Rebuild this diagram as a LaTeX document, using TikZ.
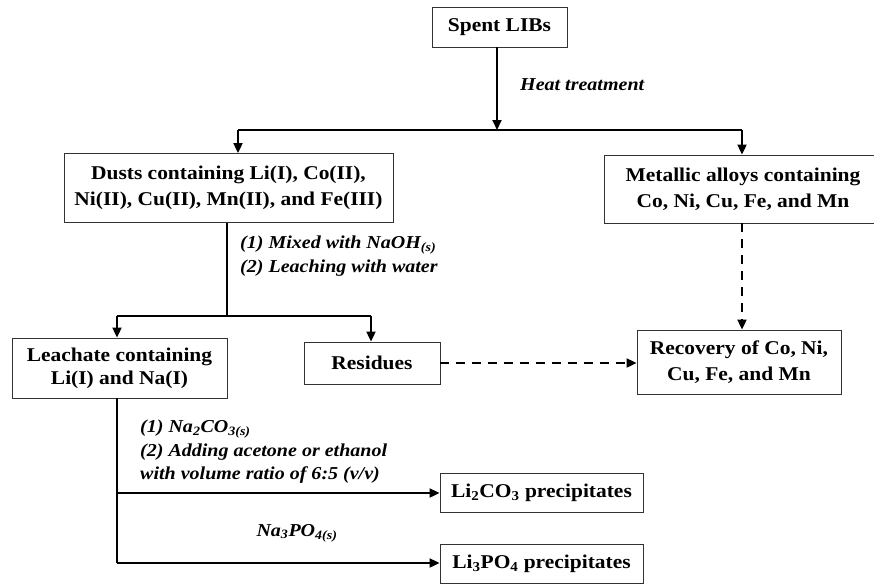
\documentclass[tikz,border=0pt]{standalone}
\usepackage{fontspec}
\setmainfont{Liberation Serif}[FakeStretch=1.1]
\usetikzlibrary{arrows.meta}
\tikzset{
  box/.style={draw=black!80, line width=0.8pt, align=center, inner sep=0pt,
    font=\bfseries\fontsize{19.5}{26}\selectfont},
  lbl/.style={align=left, anchor=west, inner sep=0pt,
    font=\bfseries\itshape\fontsize{18.2}{23.5}\selectfont},
  ln/.style={line width=1.8pt},
  arr/.style={ln, -{Triangle[length=10pt,width=9pt]}},
  darr/.style={arr, dash pattern=on 9pt off 7pt},
}
\begin{document}
\begin{tikzpicture}[x=1pt,y=-1pt]
\useasboundingbox (0,0) rectangle (874,584);
\clip (0,0) rectangle (874,584);

% boxes
\node[box, minimum width=135pt, minimum height=40pt] (spent) at (499.5,27) {Spent LIBs};
\node[box, minimum width=329pt, minimum height=69pt] (dusts) at (228.5,188) {Dusts containing Li(I), Co(II),\\Ni(II), Cu(II), Mn(II), and Fe(III)};
\node[box, minimum width=278pt, minimum height=68pt] (metal) at (743,189) {Metallic alloys containing\\Co, Ni, Cu, Fe, and Mn};
\node[box, minimum width=204pt, minimum height=64pt] (recov) at (739,362) {Recovery of Co, Ni,\\Cu, Fe, and Mn};
\node[box, minimum width=215pt, minimum height=60pt, font=\bfseries\fontsize{19.5}{23}\selectfont] (leach) at (119.5,368) {Leachate containing\\Li(I) and Na(I)};
\node[box, minimum width=136pt, minimum height=42pt] (resid) at (372,363) {Residues};
\node[box, minimum width=203pt, minimum height=39pt] (licarb) at (541.5,492.5) {Li\textsubscript{2}CO\textsubscript{3} precipitates};
\node[box, minimum width=203pt, minimum height=39pt] (liphos) at (541.5,563.5) {Li\textsubscript{3}PO\textsubscript{4} precipitates};

% branch points
\coordinate (t1) at (497,130);
\coordinate (t1l) at (238,130);
\coordinate (t1r) at (742,130);
\coordinate (t2) at (227,316);
\coordinate (t2l) at (117,316);
\coordinate (t2r) at (371,316);
\coordinate (t3) at (117,493);
\coordinate (t4) at (117,563);

% heat treatment
\draw[arr] (spent.south -| t1) -- (t1);
\draw[ln] (t1l) -- (t1r);
\draw[arr] (t1l) -- (t1l |- dusts.north);
\draw[arr] (t1r) -- (t1r |- metal.north);
\node[lbl] (heat) at (520,85) {Heat treatment};

% leaching
\draw[ln] (dusts.south -| t2) -- (t2);
\draw[ln] (t2l) -- (t2r);
\draw[arr] (t2l) -- (t2l |- leach.north);
\draw[arr] (t2r) -- (t2r |- resid.north);
\node[lbl] (naoh) at (240,256) {(1) Mixed with NaOH\textsubscript{(s)}\\(2) Leaching with water};

% recovery
\draw[darr] (resid.east) -- (resid.east -| recov.west);
\draw[darr] (metal.south -| t1r) -- (t1r |- recov.north);

% precipitation
\draw[ln] (leach.south -| t3) -- (t4);
\draw[arr] (t3) -- (t3 -| licarb.west);
\draw[arr] (t4) -- (t4 -| liphos.west);
\node[lbl] (naco) at (140,452) {(1) Na\textsubscript{2}CO\textsubscript{3(s)}\\(2) Adding acetone or ethanol\\with volume ratio of 6:5 (v/v)};
\node[lbl, anchor=center] (napo) at (297,533) {Na\textsubscript{3}PO\textsubscript{4(s)}};
\end{tikzpicture}
\end{document}
